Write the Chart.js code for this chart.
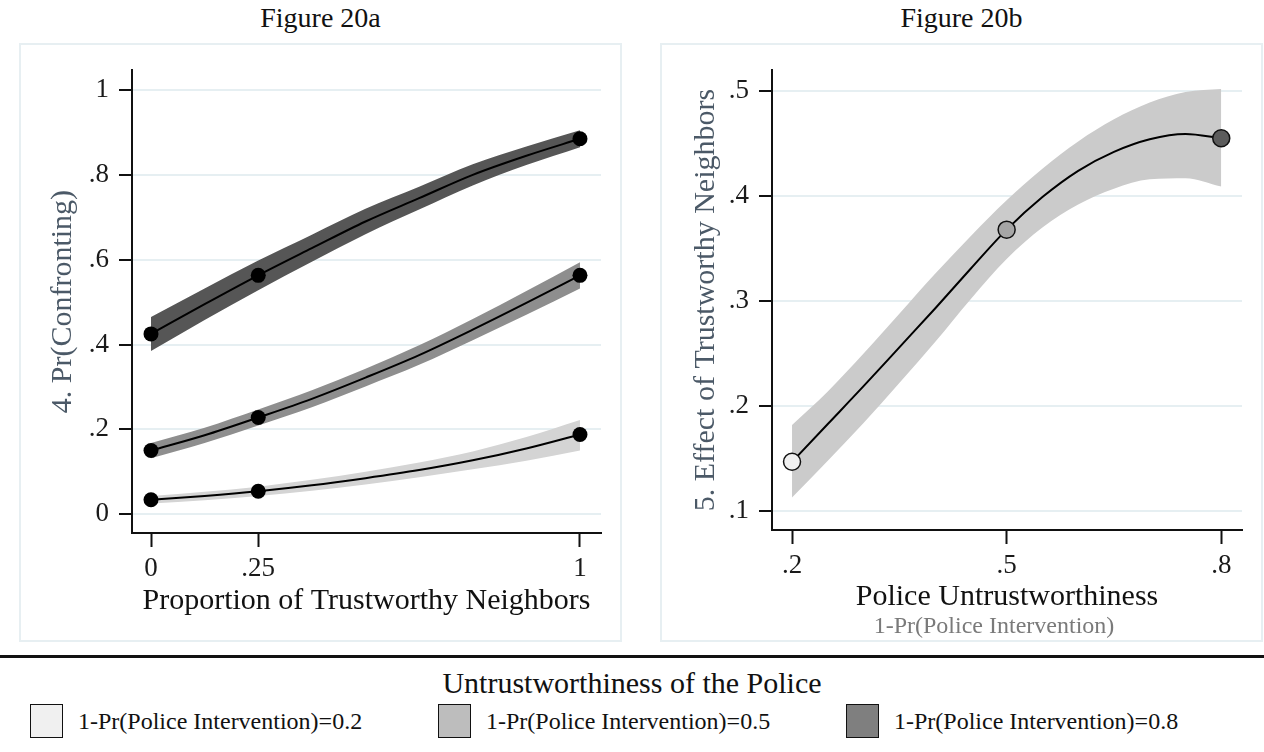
<!DOCTYPE html>
<html>
<head>
<meta charset="utf-8">
<script src="https://cdn.jsdelivr.net/npm/chart.js@4.4.1/dist/chart.umd.min.js"></script>
<style>
  html, body { margin: 0; padding: 0; background: #ffffff; }
  body { width: 1264px; height: 752px; position: relative; overflow: hidden;
         font-family: "Liberation Serif", "DejaVu Serif", serif; color: #111; }
  .abs { position: absolute; white-space: nowrap; }
  .panel { position: absolute; box-sizing: border-box; border: 2px solid #e7eff2; }
  .ptitle { position: absolute; text-align: center; font-size: 28px; line-height: 36px; }
  .swatch { position: absolute; box-sizing: border-box; border: 1.5px solid #111; }
  .ltext { position: absolute; font-size: 24px; line-height: 30px; white-space: nowrap; }
  canvas { position: absolute; }
</style>
</head>
<body>
<div class="ptitle" style="left:20px; top:0px; width:601px;" id="t1"></div>
<div class="ptitle" style="left:661px; top:0px; width:601px;" id="t2"></div>
<div class="panel" style="left:19px; top:43px; width:603px; height:599px;"></div>
<div class="panel" style="left:660px; top:43px; width:603px; height:599px;"></div>
<canvas id="c1" width="601" height="597" style="left:20px; top:44px;"></canvas>
<canvas id="c2" width="601" height="597" style="left:661px; top:44px;"></canvas>
<div class="abs" id="sub2" style="left:794px; top:610px; width:400px; text-align:center; font-size:24px; line-height:30px; color:#7a7a7a;"></div>
<div class="abs" style="left:0; top:655px; width:1264px; height:3px; background:#111;"></div>
<div class="abs" id="legTitle" style="left:0; top:665px; width:1264px; text-align:center; font-size:30px; line-height:36px;"></div>
<div id="legend"></div>

<script>
// ---- Figure 20a: predicted probability of confronting ----
const panelTitles = ['Figure 20a', 'Figure 20b'];
const trustShare = [0, 0.125, 0.25, 0.375, 0.5, 0.625, 0.75, 0.875, 1];
const trustTicks = [0, 0.25, 1];
const trustTickLabels = ['0', '.25', '1'];
const confrontTicks = [0, 0.2, 0.4, 0.6, 0.8, 1];
const confrontTickLabels = ['0', '.2', '.4', '.6', '.8', '1'];

// 1-Pr(Police Intervention)=0.2
const confrontLow   = [0.034, 0.043, 0.054, 0.068, 0.085, 0.104, 0.127, 0.155, 0.188];
const confrontLowLo = [0.025, 0.033, 0.043, 0.055, 0.070, 0.087, 0.106, 0.126, 0.150];
const confrontLowHi = [0.043, 0.053, 0.065, 0.081, 0.100, 0.122, 0.148, 0.182, 0.222];
// 1-Pr(Police Intervention)=0.5
const confrontMid   = [0.150, 0.186, 0.228, 0.272, 0.322, 0.375, 0.435, 0.498, 0.563];
const confrontMidLo = [0.132, 0.168, 0.209, 0.252, 0.301, 0.352, 0.410, 0.470, 0.532];
const confrontMidHi = [0.168, 0.204, 0.247, 0.292, 0.343, 0.398, 0.460, 0.526, 0.594];
// 1-Pr(Police Intervention)=0.8
const confrontHigh   = [0.425, 0.495, 0.563, 0.627, 0.690, 0.745, 0.800, 0.845, 0.885];
const confrontHighLo = [0.385, 0.458, 0.528, 0.595, 0.660, 0.718, 0.775, 0.823, 0.865];
const confrontHighHi = [0.465, 0.532, 0.598, 0.659, 0.720, 0.772, 0.825, 0.867, 0.905];

// ---- Figure 20b: effect of trustworthy neighbors ----
const policeLevel = [0.2, 0.25, 0.3, 0.35, 0.4, 0.45, 0.5, 0.55, 0.6, 0.65, 0.7, 0.75, 0.8];
const effect   = [0.147, 0.183, 0.219, 0.256, 0.293, 0.331, 0.368, 0.399, 0.424, 0.442, 0.454, 0.459, 0.455];
const effectLo = [0.113, 0.148, 0.184, 0.222, 0.261, 0.302, 0.340, 0.370, 0.392, 0.407, 0.416, 0.417, 0.409];
const effectHi = [0.182, 0.214, 0.250, 0.288, 0.326, 0.362, 0.396, 0.426, 0.452, 0.473, 0.489, 0.499, 0.502];
const policeTicks = [0.2, 0.5, 0.8];
const policeTickLabels = ['.2', '.5', '.8'];
const effectTicks = [0.1, 0.2, 0.3, 0.4, 0.5];
const effectTickLabels = ['.1', '.2', '.3', '.4', '.5'];

// ---- shared legend ----
const legendTitle = 'Untrustworthiness of the Police';
const legendLabels = ['1-Pr(Police Intervention)=0.2', '1-Pr(Police Intervention)=0.5', '1-Pr(Police Intervention)=0.8'];
const legendColors = ['#f0f0f0', '#bdbdbd', '#7f7f7f'];
const bandColors = ['#d4d4d4', '#8e8e8e', '#565656'];
const effectBandColor = '#cbcbcb';
const effectMarkerColors = ['#f0f0f0', '#a6a6a6', '#5c5c5c'];

const FONT = '"Liberation Serif", "DejaVu Serif", serif';
const pts = (xs, ys) => xs.map((x, i) => ({ x, y: ys[i] }));
const pick = (xs, ys, keep) => xs.map((x, i) => ({ x, y: ys[i] })).filter(p => keep.includes(p.x));

document.getElementById('t1').textContent = panelTitles[0];
document.getElementById('t2').textContent = panelTitles[1];
document.getElementById('sub2').textContent = '1-Pr(Police Intervention)';
document.getElementById('legTitle').textContent = legendTitle;

const legend = document.getElementById('legend');
const swatchX = [30, 438, 846];
legendLabels.forEach((txt, i) => {
  const sw = document.createElement('div');
  sw.className = 'swatch';
  sw.style.cssText = `left:${swatchX[i]}px; top:704px; width:33px; height:34px; background:${legendColors[i]};`;
  legend.appendChild(sw);
  const tx = document.createElement('div');
  tx.className = 'ltext';
  tx.style.cssText = `left:${swatchX[i] + 48}px; top:706px;`;
  tx.textContent = txt;
  legend.appendChild(tx);
});

function axisY(ticks, labels, min, max, width, titleText, titlePad) {
  return {
    type: 'linear', min, max,
    afterBuildTicks: s => { s.ticks = ticks.map(v => ({ value: v })); },
    afterFit: s => { s.width = width; },
    ticks: {
      autoSkip: false, padding: 10, color: '#1a1a1a',
      font: { family: FONT, size: 27 },
      callback: v => labels[ticks.indexOf(v)] ?? ''
    },
    grid: { color: '#e6eff2', lineWidth: 2, drawTicks: true, tickLength: 13,
            tickColor: '#111', tickWidth: 2 },
    border: { display: true, color: '#111', width: 2 },
    title: { display: true, text: titleText, color: '#4b5967',
             font: { family: FONT, size: 30 }, padding: { top: titlePad, bottom: 0 } }
  };
}
function axisX(ticks, labels, min, max, height, titleText, titlePad) {
  return {
    type: 'linear', min, max,
    afterBuildTicks: s => { s.ticks = ticks.map(v => ({ value: v })); },
    afterFit: s => { s.height = height; },
    ticks: {
      autoSkip: false, maxRotation: 0, padding: 6, color: '#1a1a1a',
      font: { family: FONT, size: 27 },
      callback: v => labels[ticks.indexOf(v)] ?? ''
    },
    grid: { drawOnChartArea: false, drawTicks: true, tickLength: 14,
            tickColor: '#111', tickWidth: 2 },
    border: { display: true, color: '#111', width: 2 },
    title: { display: true, text: titleText, color: '#111',
             font: { family: FONT, size: 30 }, padding: { top: 0, bottom: titlePad } }
  };
}

const bandSet = (xs, hi, lo, color) => ([
  { data: pts(xs, hi), borderWidth: 0, pointRadius: 0, fill: '+1', backgroundColor: color,
    cubicInterpolationMode: 'monotone', order: 3 },
  { data: pts(xs, lo), borderWidth: 0, pointRadius: 0, fill: false,
    cubicInterpolationMode: 'monotone', order: 3 }
]);
const lineSet = (xs, ys) => ({
  data: pts(xs, ys), borderColor: '#000', borderWidth: 2, pointRadius: 0, fill: false,
  cubicInterpolationMode: 'monotone', order: 2
});

const common = {
  responsive: false, animation: false, devicePixelRatio: 1,
  plugins: { legend: { display: false }, tooltip: { enabled: false }, title: { display: false } },
  events: []
};

new Chart(document.getElementById('c1'), {
  type: 'line',
  data: {
    datasets: [
      ...bandSet(trustShare, confrontLowHi, confrontLowLo, bandColors[0]),
      ...bandSet(trustShare, confrontMidHi, confrontMidLo, bandColors[1]),
      ...bandSet(trustShare, confrontHighHi, confrontHighLo, bandColors[2]),
      lineSet(trustShare, confrontLow),
      lineSet(trustShare, confrontMid),
      lineSet(trustShare, confrontHigh),
      { data: [...pick(trustShare, confrontLow, trustTicks), ...pick(trustShare, confrontMid, trustTicks),
               ...pick(trustShare, confrontHigh, trustTicks)],
        showLine: false, pointRadius: 7.5, pointBackgroundColor: '#000', pointBorderWidth: 0, order: 1 }
    ]
  },
  options: {
    ...common,
    layout: { padding: { top: 21, right: 20, left: 0, bottom: 0 } },
    scales: {
      x: axisX(trustTicks, trustTickLabels, -0.0443, 1.049, 108, 'Proportion of Trustworthy Neighbors', 22),
      y: axisY(confrontTicks, confrontTickLabels, -0.0443, 1.0466, 112, '4. Pr(Confronting)', 25)
    }
  }
});

new Chart(document.getElementById('c2'), {
  type: 'line',
  data: {
    datasets: [
      ...bandSet(policeLevel, effectHi, effectLo, effectBandColor),
      lineSet(policeLevel, effect),
      { data: pick(policeLevel, effect, policeTicks), showLine: false, pointRadius: 8.5,
        pointBackgroundColor: effectMarkerColors, pointBorderColor: '#111', pointBorderWidth: 1.5, order: 1 }
    ]
  },
  options: {
    ...common,
    layout: { padding: { top: 21, right: 20, left: 0, bottom: 0 } },
    scales: {
      x: axisX(policeTicks, policeTickLabels, 0.172, 0.829, 111, 'Police Untrustworthiness', 26),
      y: axisY(effectTicks, effectTickLabels, 0.0821, 0.5198, 111, '5. Effect of Trustworthy Neighbors', 27)
    }
  }
});
</script>
</body>
</html>
